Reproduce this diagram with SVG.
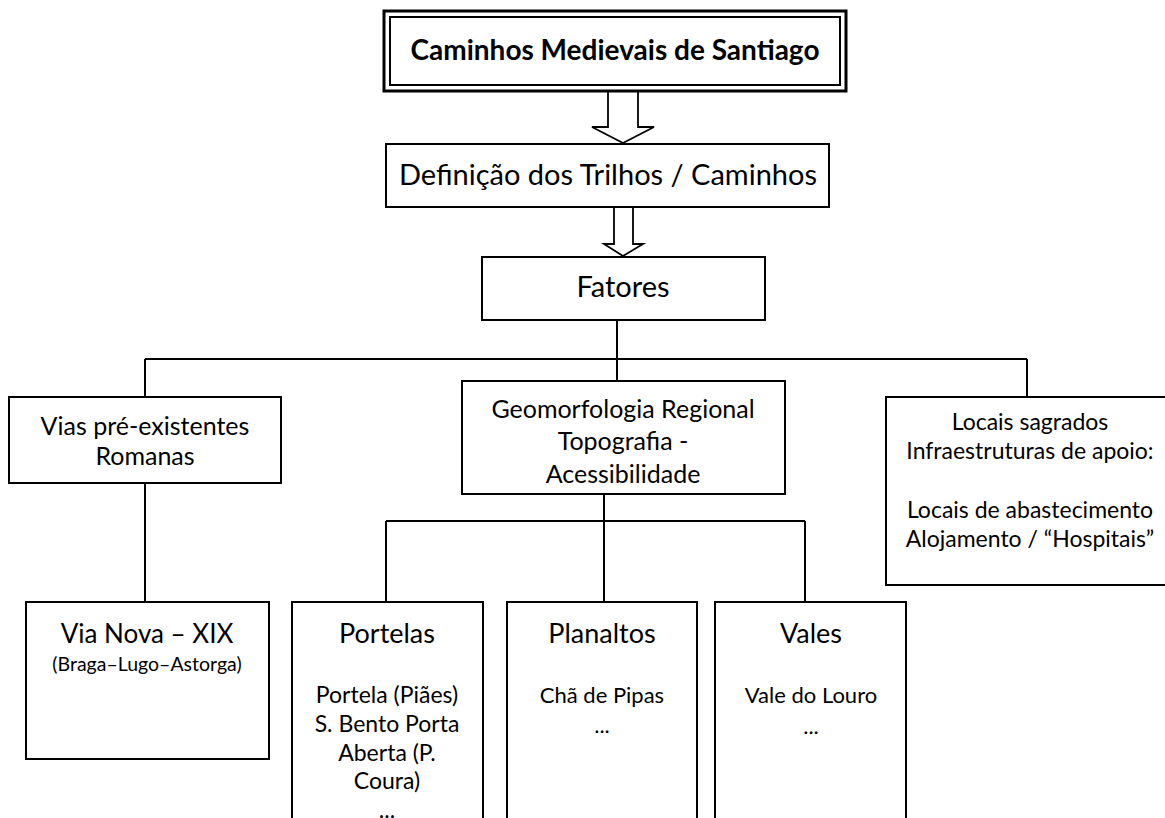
<svg xmlns="http://www.w3.org/2000/svg" width="1165" height="818" viewBox="0 0 1165 818">
<style>
.box{fill:#fff;stroke:#000;stroke-width:2}
.ln{fill:none;stroke:#000;stroke-width:2}
.arr{fill:#fff;stroke:#000;stroke-width:1.8;stroke-linejoin:miter}
text{font-family:Lato,"Liberation Sans",sans-serif;fill:#000;text-anchor:middle}
.t1{font-size:28px;font-weight:bold}
.t2{font-size:29px}
.t5{font-size:26px}
.t6{font-size:27px}
.t3{font-size:23px}
.t7{font-size:25px}
.t8{font-size:22px}
.t4{font-size:19.5px}
</style>
<rect width="1165" height="818" fill="#fff"/>
<g id="connectors">
<path class="arr" d="M608 91 V127 H592 L623 143 L654 127 H638 V91"/>
<path class="arr" d="M614 207 V244 H604 L623 256 L643 244 H633 V207"/>
<path class="ln" d="M617 320 V359 M145 359 H1027 M145 359 V397 M617 359 V381 M1027 359 V397"/>
<path class="ln" d="M145 483 V602"/>
<path class="ln" d="M604 494 V521 M386 521 H805 M386 521 V602 M604 521 V602 M805 521 V602"/>
</g>
<g id="title">
<rect x="384" y="11" width="462" height="80" fill="#fff" stroke="#000" stroke-width="3"/>
<rect x="390" y="17" width="450" height="68" fill="none" stroke="#000" stroke-width="2"/>
<text class="t1" x="615" y="60">Caminhos Medievais de Santiago</text>
</g>
<g id="definicao">
<rect class="box" x="386" y="144" width="443" height="63"/>
<text class="t2" x="608" y="185">Definição dos Trilhos / Caminhos</text>
</g>
<g id="fatores">
<rect class="box" x="482" y="257" width="283" height="63"/>
<text class="t2" x="623" y="297">Fatores</text>
</g>
<g id="vias">
<rect class="box" x="9" y="397" width="272" height="86"/>
<text class="t7" x="145" y="435">Vias pré-existentes</text>
<text class="t7" x="145" y="465">Romanas</text>
</g>
<g id="geomorfologia">
<rect class="box" x="462" y="381" width="323" height="113"/>
<text class="t7" x="623" y="418">Geomorfologia Regional</text>
<text class="t7" x="623" y="450">Topografia -</text>
<text class="t7" x="623" y="483">Acessibilidade</text>
</g>
<g id="locais">
<rect class="box" x="886" y="397" width="282" height="188"/>
<text class="t3" x="1030" y="430">Locais sagrados</text>
<text class="t3" x="1030" y="459">Infraestruturas de apoio:</text>
<text class="t3" x="1030" y="518">Locais de abastecimento</text>
<text class="t3" x="1030" y="547">Alojamento / “Hospitais”</text>
</g>
<g id="vianova">
<rect class="box" x="26" y="602" width="243" height="157"/>
<text class="t5" x="147" y="643">Via Nova – XIX</text>
<text class="t4" x="147" y="671">(Braga–Lugo–Astorga)</text>
</g>
<g id="portelas">
<rect class="box" x="292" y="602" width="191" height="230"/>
<text class="t6" x="387" y="643">Portelas</text>
<text class="t3" x="387" y="703">Portela (Piães)</text>
<text class="t3" x="387" y="732">S. Bento Porta</text>
<text class="t3" x="387" y="761">Aberta (P.</text>
<text class="t3" x="387" y="789">Coura)</text>
<text class="t3" x="387" y="818">...</text>
</g>
<g id="planaltos">
<rect class="box" x="507" y="602" width="190" height="230"/>
<text class="t6" x="602" y="643">Planaltos</text>
<text class="t8" x="602" y="703">Chã de Pipas</text>
<text class="t8" x="602" y="733">...</text>
</g>
<g id="vales">
<rect class="box" x="715" y="602" width="191" height="230"/>
<text class="t6" x="811" y="643">Vales</text>
<text class="t8" x="811" y="703">Vale do Louro</text>
<text class="t8" x="811" y="734">...</text>
</g>
</svg>
